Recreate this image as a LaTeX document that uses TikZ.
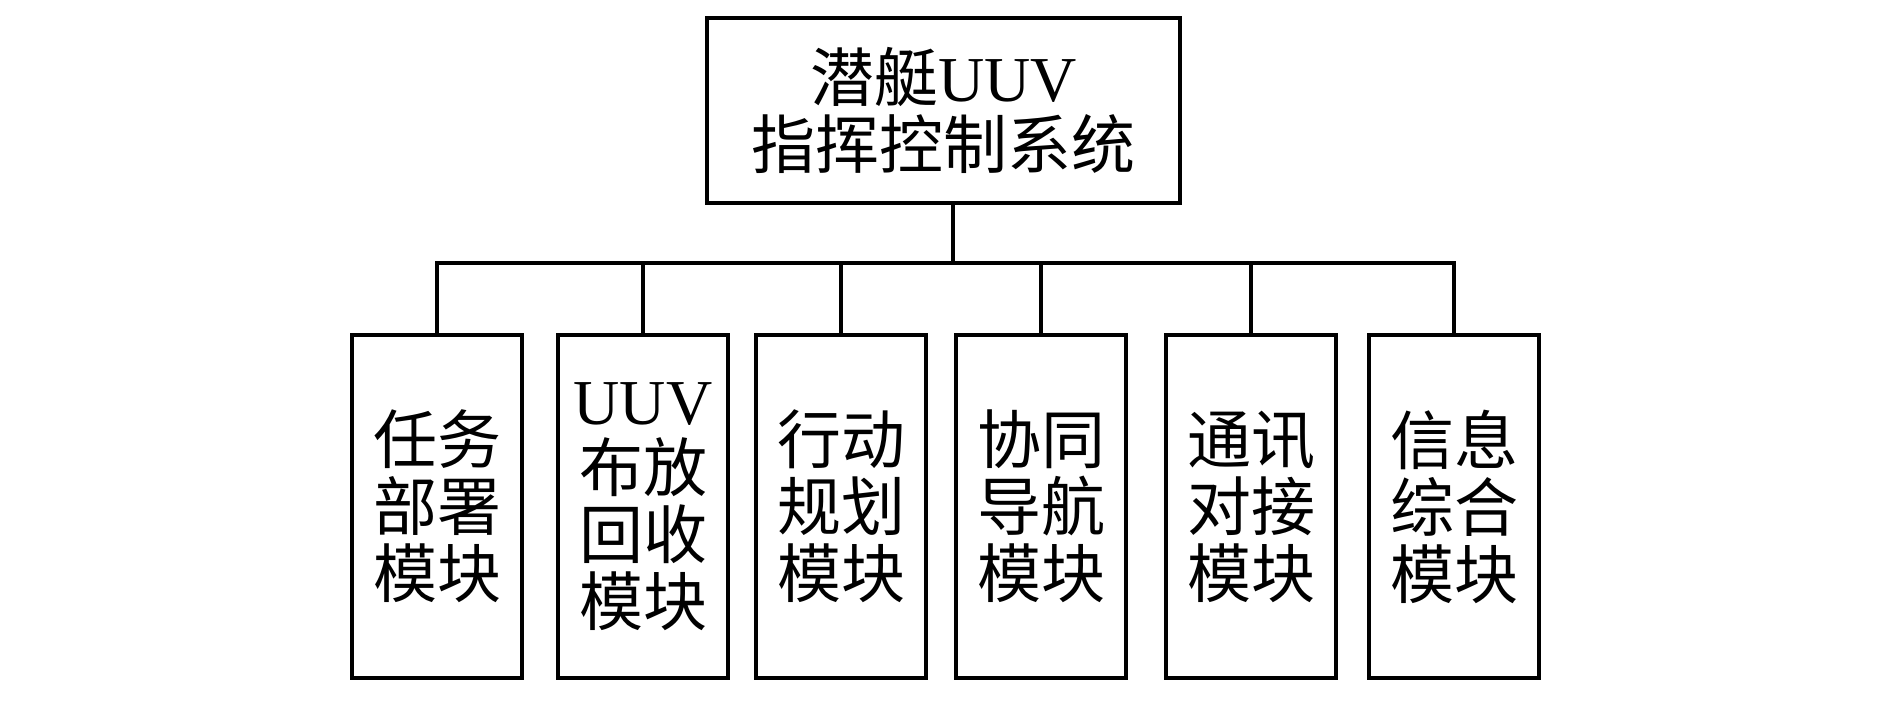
\documentclass[tikz,border=0pt]{standalone}
\usepackage{fontspec}
\setmainfont{Liberation Serif}
\newfontfamily\cjk{Noto Sans CJK SC}
\begin{document}
\begin{tikzpicture}[x=0.5pt,y=-0.5pt,
  box/.style={draw,line width=1.8pt,inner sep=0pt,align=center,
    font=\cjk\fontsize{32pt}{33.5pt}\selectfont},
  topbox/.style={box,minimum width=236.5pt,minimum height=92.5pt},
  modbox/.style={box,minimum width=85pt,minimum height=171.5pt},
  link/.style={line width=1.8pt}]
\useasboundingbox (0,0) rectangle (1890,709);
\node[topbox] (top) at (943.5,110.5) {潜艇{\rmfamily UUV}\\指挥控制系统};
\node[modbox] (b1) at (437,506.5) {任务\\部署\\模块};
\node[modbox] (b2) at (643,506.5) {{\rmfamily UUV}\\布放\\回收\\模块};
\node[modbox] (b3) at (841,506.5) {行动\\规划\\模块};
\node[modbox] (b4) at (1041,506.5) {协同\\导航\\模块};
\node[modbox] (b5) at (1251,506.5) {通讯\\对接\\模块};
\node[modbox] (b6) at (1454,506.5) {信息\\综合\\模块};
\coordinate (bar) at (0,263);
\draw[link] ([xshift=4.75pt]top.south) -- ([xshift=4.75pt]top.south |- bar);
\draw[link] (b1.north) -- (b1.north |- bar) -- (b6.north |- bar) -- (b6.north);
\foreach \b in {b2,b3,b4,b5} \draw[link] (\b.north) -- (\b.north |- bar);
\end{tikzpicture}
\end{document}
